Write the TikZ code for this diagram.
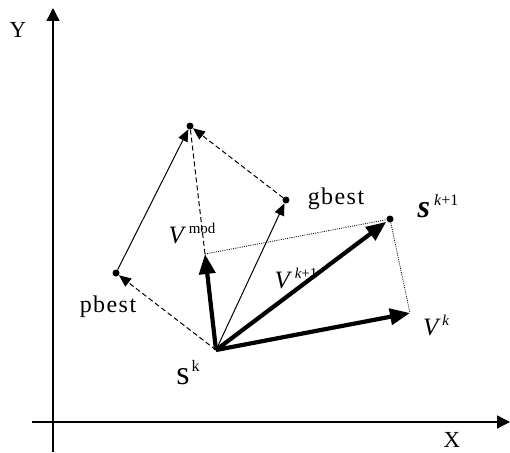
\documentclass[tikz,border=0pt]{standalone}
\usepackage{fontspec}
\setmainfont{Liberation Serif}
\usetikzlibrary{arrows.meta}
\tikzset{
  axis/.style={line width=1.4pt,-{Triangle[length=13pt,width=13pt]}},
  bigvec/.style={line width=4.2pt,-{Triangle[length=20pt,width=16pt]}},
  thinvec/.style={line width=1pt,-{Triangle[length=12pt,width=10pt]}},
  dashvec/.style={line width=1pt,dash pattern=on 5pt off 3pt,-{Triangle[length=12pt,width=10pt]}},
  dashline/.style={line width=1pt,dash pattern=on 5pt off 3pt},
  dotline/.style={line width=0.8pt,dash pattern=on 1pt off 1.2pt},
  dot/.style={circle,fill=black,inner sep=0pt,minimum size=7pt},
  lab/.style={inner sep=0pt,text=black},
  word/.style={inner sep=0pt,font=\fontsize{24}{24}\selectfont\addfontfeature{LetterSpace=6}},
}
\begin{document}
\begin{tikzpicture}[x=1pt,y=-1pt]
\useasboundingbox (0,0) rectangle (510,452);
% axes
\coordinate (ybot) at (53,452);
\coordinate (ytop) at (53,8);
\coordinate (xl) at (32,422);
\coordinate (xr) at (510,422);
\draw[axis] (ybot) -- (ytop);
\draw[axis] (xl) -- (xr);
\node[lab,font=\fontsize{23}{23}\selectfont] (ylab) at (18,30) {Y};
\node[lab,font=\fontsize{23}{23}\selectfont] (xlab) at (452,440) {X};
% points
\node[dot] (T) at (190,126) {};
\node[dot] (G) at (286,200) {};
\node[dot] (P) at (116,273) {};
\node[dot] (S1) at (390,219) {};
\coordinate (S) at (216,350);
\coordinate (Vm) at (205,254);
\coordinate (Vk) at (410,313);
% dotted construction
\draw[dotline] (Vm) -- (S1);
\draw[dotline] (S1) -- (Vk);
% dashed
\draw[dashline] (T) -- (Vm);
\draw[dashvec] (S) -- (P);
\draw[dashvec] (G) -- (T);
% thin solid
\draw[thinvec] (P) -- (T);
\draw[thinvec] (S) -- (G);
% thick vectors
\draw[bigvec] (S) -- (Vm);
\draw[bigvec] (S) -- (Vk);
\draw[bigvec,shorten >=1pt] (S) -- (S1);
% labels
\node[word] (gl) at (336,199) {gbest};
\node[word] (pl) at (108,307) {pbest};
\node[lab] (vml) at (192,233) {\fontsize{25}{25}\selectfont\itshape V\hspace{5pt}\raisebox{10pt}{\fontsize{15}{15}\selectfont\upshape mod}};
\node[lab] (vk1l) at (296,278) {\fontsize{25}{25}\selectfont\itshape V\hspace{5pt}\raisebox{10pt}{\fontsize{15}{15}\selectfont\itshape k\upshape +1}};
\node[lab] (vkl) at (436,325) {\fontsize{25}{25}\selectfont\itshape V\hspace{4pt}\raisebox{10pt}{\fontsize{15}{15}\selectfont\itshape k}};
\node[lab] (s1l) at (438,206) {\fontsize{32}{32}\selectfont\bfseries\itshape s\hspace{4pt}\raisebox{12pt}{\fontsize{16}{16}\selectfont\mdseries\itshape k\upshape +1}};
\node[lab] (skl) at (188,373) {\fontsize{34}{34}\selectfont s\hspace{2pt}\raisebox{13pt}{\fontsize{16}{16}\selectfont k}};
\end{tikzpicture}
\end{document}
